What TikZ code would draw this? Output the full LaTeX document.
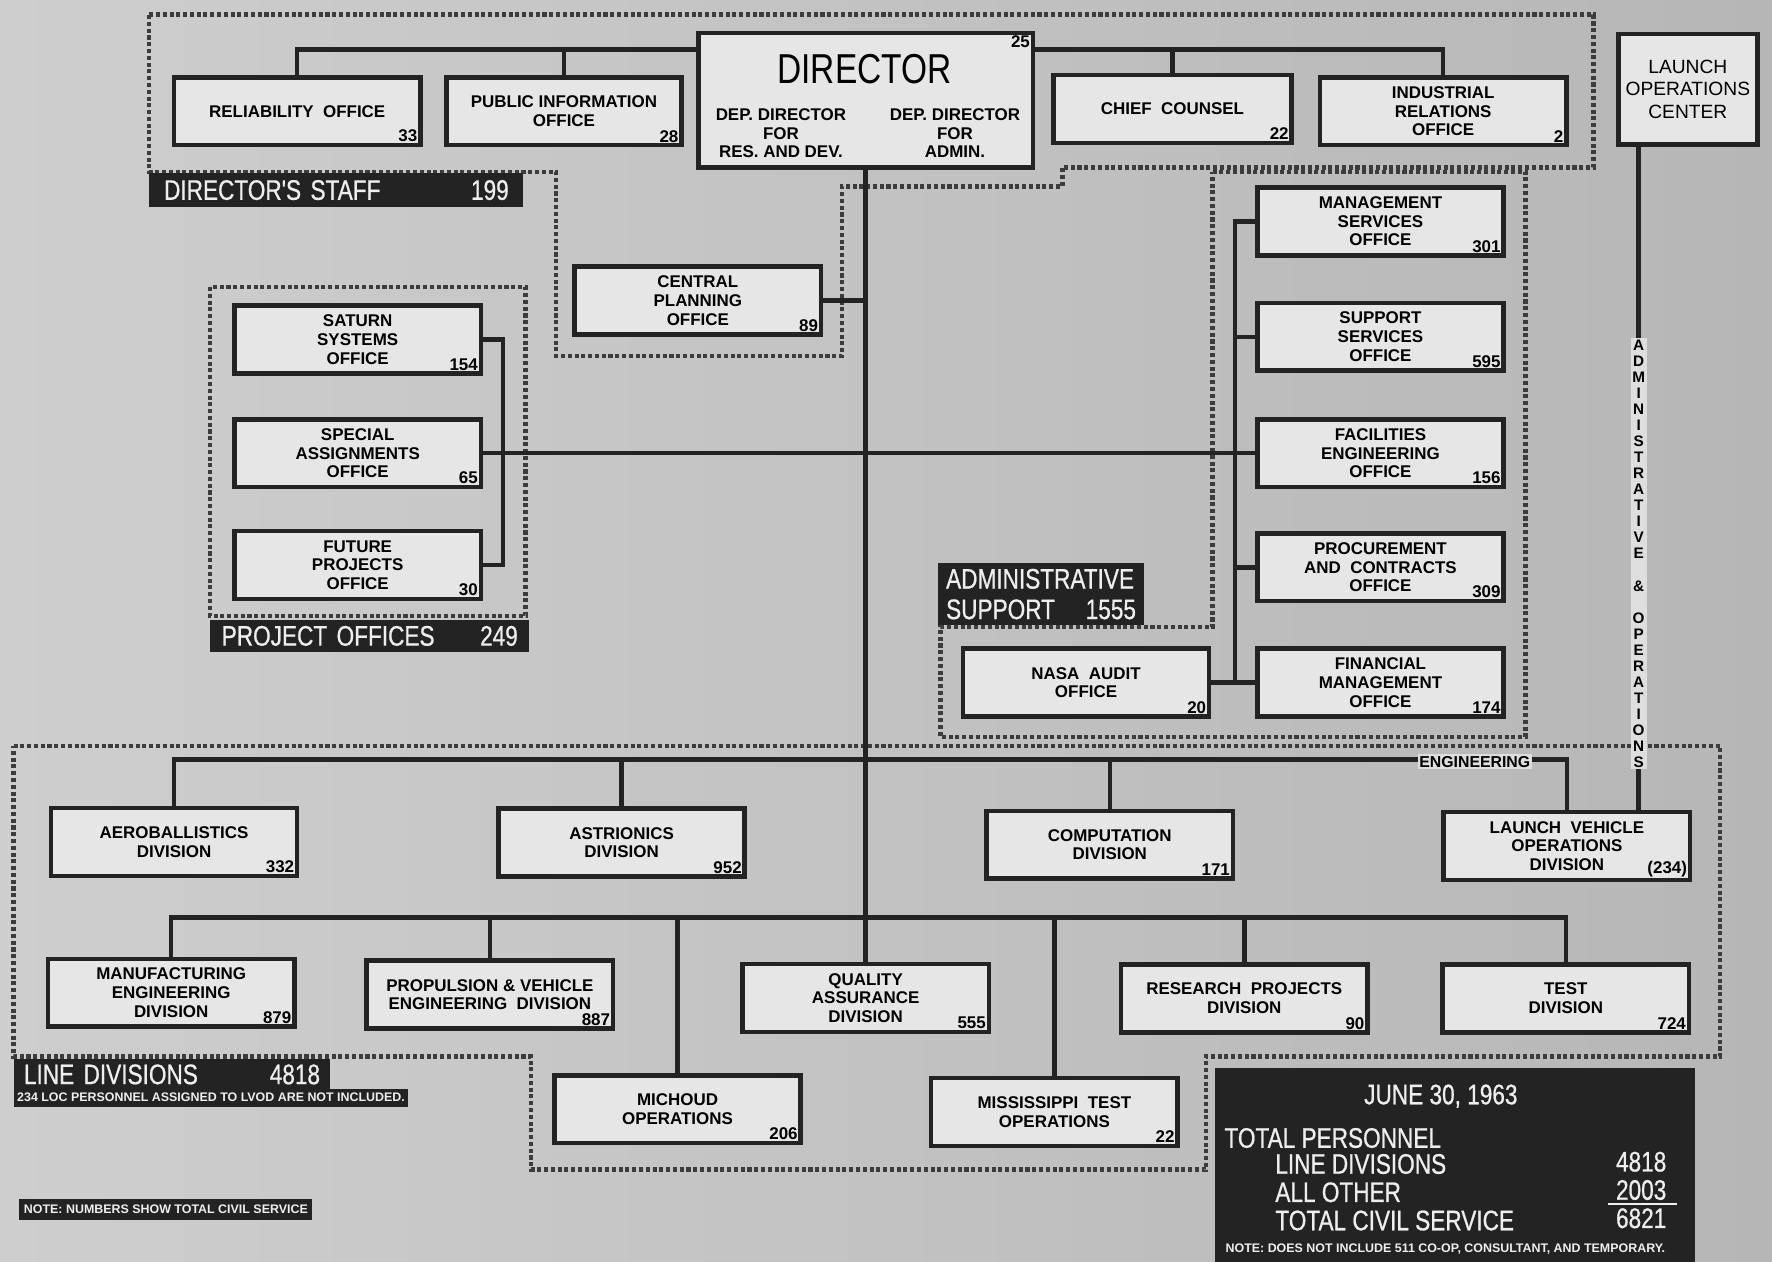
\documentclass[tikz,border=0pt]{standalone}
\usepackage{fontspec}
\setmainfont{Liberation Sans}
\newfontfamily\narrowfont[FakeStretch=0.8]{Liberation Sans}
\newfontfamily\narrowboldfont[FakeStretch=0.8,FakeBold=0.7]{Liberation Sans}

\definecolor{ink}{RGB}{35,35,35}
\definecolor{paper}{RGB}{230,230,230}
\definecolor{dots}{RGB}{60,60,60}
\definecolor{chalk}{RGB}{238,238,238}
\definecolor{backdrop}{RGB}{182,182,182}
\definecolor{backlight}{RGB}{206,206,206}
\definecolor{stripfill}{RGB}{222,222,222}

\newcommand{\officefont}{\fontsize{15}{16.5}\selectfont\bfseries}
\newcommand{\dirfont}{\narrowfont\fontsize{37}{40}\selectfont}
\newcommand{\groupfont}{\narrowboldfont\fontsize{25}{27}\selectfont}
\newcommand{\locfont}{\fontsize{17}{20}\selectfont}
\newcommand{\notefont}{\fontsize{11}{12}\selectfont\bfseries}
\newcommand{\vertfont}{\fontsize{13.5}{14.2}\selectfont\bfseries}

\begin{document}
\begin{tikzpicture}[x=1pt,y=-1pt]
		\tikzset{office/.style={draw=ink,
								fill=paper,
								line width=4pt,
								rectangle,
								minimum width=218pt,
								minimum height=60pt,
								inner sep=2pt,
								align=center,
								font=\officefont},
				 staff/.style={office,
							   label={[headcount]south east:#1}},
				 headcount/.style={anchor=south east,
								   inner sep=1.5pt,
								   xshift=-3pt,
								   yshift=3pt,
								   font=\officefont},
				 link/.style={draw=ink,
							  line width=4pt},
				 groupline/.style={draw=dots,
								   line width=4pt,
								   dash pattern=on 3.6pt off 2.4pt},
				 grouptag/.style={fill=ink,
								  text=chalk,
								  inner xsep=7pt,
								  inner ysep=0pt,
								  anchor=north west,
								  align=left,
								  font=\groupfont},
				 onlinelabel/.style={fill=stripfill,
									 inner sep=1.5pt}}
		\shade[left color=backlight, right color=backdrop] (0,0) rectangle (1568,1116);
		\useasboundingbox (0,0) rectangle (1568,1116);

		% Groups
		\draw[groupline] (132,13) -- (1410,13) -- (1410,148) -- (940,148) -- (940,165) -- (745,165)
			-- (745,315) -- (492,315) -- (492,152) -- (132,152) -- cycle;
		\draw[groupline] (186,254) rectangle (465,545);
		\draw[groupline] (1073,152) -- (1350,152) -- (1350,652) -- (832,652) -- (832,555) -- (1073,555) -- cycle;
		\draw[groupline] (12,660) -- (1522,660) -- (1522,935) -- (1067,935) -- (1067,1035) -- (470,1035)
			-- (470,935) -- (12,935) -- cycle;

		\node[grouptag, minimum width=331pt, minimum height=30pt, text width=305pt] (stafftag) at (132,153) {DIRECTOR'S STAFF\hfill 199};
		\node[grouptag, minimum width=282pt, minimum height=29pt, text width=262pt] (projtag) at (186,548) {PROJECT OFFICES\hfill 249};
		\node[grouptag, minimum width=182pt, minimum height=55pt, text width=168pt] (admintag) at (830,498) {ADMINISTRATIVE\\SUPPORT\hfill 1555};
		\node[grouptag, minimum width=280pt, minimum height=27pt, text width=262pt] (linetag) at (12,937) {LINE DIVISIONS\hfill 4818};
		\node[grouptag, font=\notefont, inner xsep=3pt, minimum height=16pt] (lvodnote) at (12,963) {234 LOC PERSONNEL ASSIGNED TO LVOD ARE NOT INCLUDED.};
		\node[grouptag, font=\notefont, inner xsep=4pt, minimum height=18pt] (civilnote) at (17,1061) {NOTE:~NUMBERS SHOW TOTAL CIVIL SERVICE};

		% Nodes
		\node[office, minimum width=296pt, minimum height=119pt,
			  label={[headcount, anchor=north east, yshift=-6pt]north east:25}] (dir) at (766,88.5) {};
		\node[font=\dirfont] (dirname) at (765,61) {DIRECTOR};
		\node[font=\officefont, align=center] (deprd) at (691,118) {DEP.~DIRECTOR\\FOR\\RES.~AND~DEV.};
		\node[font=\officefont, align=center] (depadm) at (845,118) {DEP.~DIRECTOR\\FOR\\ADMIN.};
		\node[staff=33] (rel) at (263,98.5) {RELIABILITY~~OFFICE};
		\node[staff=28, minimum width=208pt] (pio) at (499,98.5) {PUBLIC~INFORMATION\\OFFICE};
		\node[staff=22, minimum width=211pt] (cc) at (1037.5,96.5) {CHIEF~~COUNSEL};
		\node[staff=2] (irl) at (1277,98.5) {INDUSTRIAL\\RELATIONS\\OFFICE};
		\node[office, minimum width=123pt, minimum height=98pt, font=\locfont] (loc) at (1493.5,79) {LAUNCH\\OPERATIONS\\CENTER};
		\node[staff=89] (cpo) at (617.5,266) {CENTRAL\\PLANNING\\OFFICE};

		\node[staff=154] (sat) at (316.5,300.5) {SATURN\\SYSTEMS\\OFFICE};
		\node[staff=65] (spa) at (316.5,401) {SPECIAL\\ASSIGNMENTS\\OFFICE};
		\node[staff=30] (fut) at (316.5,500) {FUTURE\\PROJECTS\\OFFICE};

		\node[staff=301] (mso) at (1221.5,196) {MANAGEMENT\\SERVICES\\OFFICE};
		\node[staff=595] (sso) at (1221.5,298) {SUPPORT\\SERVICES\\OFFICE};
		\node[staff=156] (feo) at (1221.5,401) {FACILITIES\\ENGINEERING\\OFFICE};
		\node[staff=309] (pco) at (1221.5,502) {PROCUREMENT\\AND~~CONTRACTS\\OFFICE};
		\node[staff=174] (fmo) at (1221.5,604) {FINANCIAL\\MANAGEMENT\\OFFICE};
		\node[staff=20] (nao) at (961,604) {NASA~~AUDIT\\OFFICE};

		\node[staff=332] (aer) at (154,745) {AEROBALLISTICS\\DIVISION};
		\node[staff=952] (ast) at (550,745.5) {ASTRIONICS\\DIVISION};
		\node[staff=171] (cmp) at (982,747.5) {COMPUTATION\\DIVISION};
		\node[staff=(234)] (lvo) at (1386.5,748.5) {LAUNCH~~VEHICLE\\OPERATIONS\\DIVISION};
		\node[staff=879] (mfg) at (151.5,878.5) {MANUFACTURING\\ENGINEERING\\DIVISION};
		\node[staff=887] (pve) at (433.5,880) {PROPULSION~\&~VEHICLE\\ENGINEERING~~DIVISION};
		\node[staff=555] (qad) at (766,883) {QUALITY\\ASSURANCE\\DIVISION};
		\node[staff=90] (rpd) at (1101,883.5) {RESEARCH~~PROJECTS\\DIVISION};
		\node[staff=724] (tst) at (1385.5,883.5) {TEST\\DIVISION};
		\node[staff=206] (mic) at (599.5,981.5) {MICHOUD\\OPERATIONS};
		\node[staff=22] (mst) at (933,984) {MISSISSIPPI~~TEST\\OPERATIONS};

		% Summary
		\node[grouptag, minimum width=425pt, minimum height=172pt] (summary) at (1075,945) {};
		\node[font=\groupfont, text=chalk] (sumdate) at (1275,970) {JUNE 30, 1963};
		\node[font=\groupfont, text=chalk, anchor=west] (sumtotal) at (1080,1007) {TOTAL PERSONNEL};
		\node[font=\groupfont, text=chalk, anchor=west] (sumline) at (1125,1030) {LINE DIVISIONS};
		\node[font=\groupfont, text=chalk, anchor=east] (sumlinen) at (1478,1028) {4818};
		\node[font=\groupfont, text=chalk, anchor=west] (sumother) at (1125,1055) {ALL OTHER};
		\node[font=\groupfont, text=chalk, anchor=east] (sumothern) at (1478,1053) {2003};
		\node[font=\groupfont, text=chalk, anchor=west] (sumcivil) at (1125,1080) {TOTAL CIVIL SERVICE};
		\node[font=\groupfont, text=chalk, anchor=east] (sumciviln) at (1478,1078) {6821};
		\node[font=\notefont, text=chalk, anchor=west] (sumnote) at (1081,1105) {NOTE: DOES NOT INCLUDE 511 CO-OP, CONSULTANT, AND TEMPORARY.};
		\draw[draw=chalk, line width=2.2pt] ([xshift=-4pt]sumothern.south west) -- ([xshift=6pt]sumothern.south east);

		% Lines
		\coordinate (topbus) at (766,44);
		\draw[link] (rel.north) |- (topbus -| dir.west);
		\draw[link] (pio.north) -- (pio.north |- topbus);
		\draw[link] (irl.north) |- (topbus -| dir.east);
		\draw[link] (cc.north) -- (cc.north |- topbus);
		\draw[link] (dir.south) -- (qad.north);
		\draw[link] (cpo.east) -- (cpo.east -| dir.south);
		\draw[link] (spa.east) -- (feo.west);

		\coordinate (projbus) at (445,401);
		\draw[link] (sat.east) -| (projbus) |- (fut.east);
		\coordinate (adminbus) at (1093,401);
		\draw[link] (mso.west) -| (adminbus) |- (fmo.west);
		\draw[link] (sso.west) -- (sso.west -| adminbus);
		\draw[link] (pco.west) -- (pco.west -| adminbus);
		\draw[link] (nao.east) -- (fmo.west);

		\coordinate (engbus) at (766,672);
		\draw[link] (aer.north) |- (engbus) -| (lvo.north);
		\foreach \n in {ast,cmp}
			\draw[link] (\n.north) -- (\n.north |- engbus);
		\coordinate (divbus) at (766,812);
		\draw[link] (mfg.north) |- (divbus) -| (tst.north);
		\foreach \n in {pve,mic,mst,rpd}
			\draw[link] (\n.north) -- (\n.north |- divbus);

		\coordinate (aopsx) at (1450,0);
		\draw[link] (aopsx |- loc.south) -- (aopsx |- lvo.north);
		\node[onlinelabel, font=\vertfont, align=center] (aops) at (1450,490)
			{A\\D\\M\\I\\N\\I\\S\\T\\R\\A\\T\\I\\V\\E\\[14.2pt]\&\\[14.2pt]O\\P\\E\\R\\A\\T\\I\\O\\N\\S};
		\node[onlinelabel, font=\fontsize{14}{15}\selectfont\bfseries] (englabel) at (1305,674) {ENGINEERING};
	\end{tikzpicture}
\end{document}
